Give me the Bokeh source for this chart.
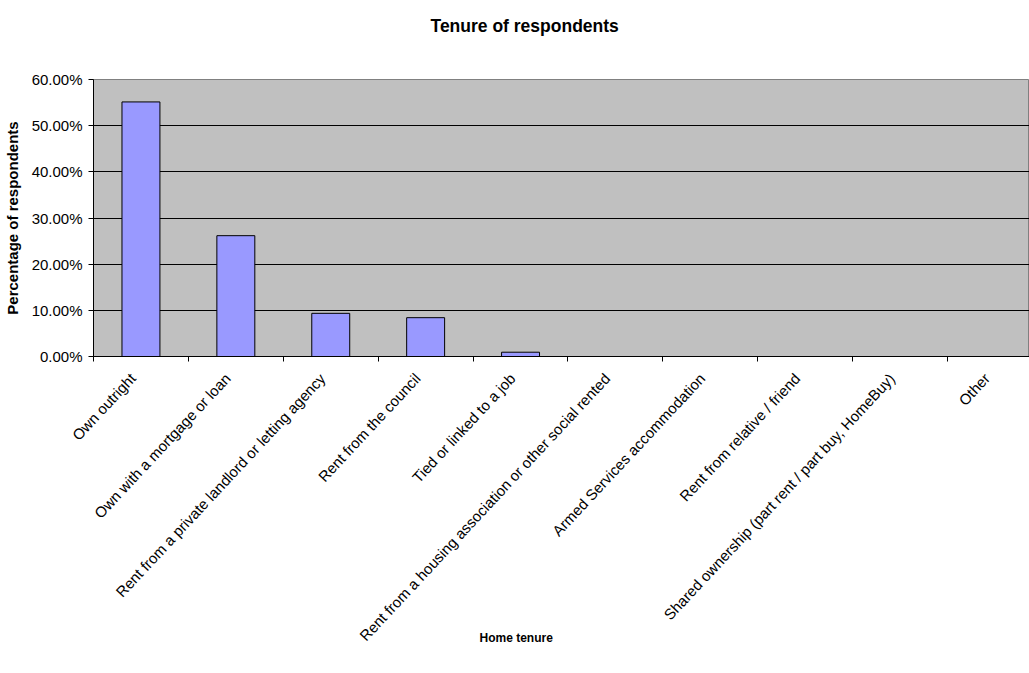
import math

from bokeh.plotting import figure
from bokeh.models import Range1d, FixedTicker, Title
from bokeh.embed import file_html
from bokeh.resources import INLINE

# Survey answers: home tenure of respondents
categories = [
    "Own outright",
    "Own with a mortgage or loan",
    "Rent from a private landlord or letting agency",
    "Rent from the council",
    "Tied or linked to a job",
    "Rent from a housing association or other social rented",
    "Armed Services accommodation",
    "Rent from relative / friend",
    "Shared ownership (part rent / part buy, HomeBuy)",
    "Other",
]
percentages = [55.14, 26.17, 9.35, 8.41, 0.93, 0.0, 0.0, 0.0, 0.0, 0.0]

y_ticks = [0, 10, 20, 30, 40, 50, 60]
y_tick_labels = ["0.00%", "10.00%", "20.00%", "30.00%", "40.00%", "50.00%", "60.00%"]

FONT = "Liberation Sans"
W, H = 1029, 673
FRAME_LEFT, FRAME_TOP, FRAME_BOTTOM = 92, 79, 356
SLOT = 95.0  # pixels per category slot
LABEL_SHIFT = -0.085  # rotated names sit slightly left of their slot centre

positions = list(range(len(categories)))
x_end = (W - FRAME_LEFT) / SLOT - 0.5

p = figure(
    width=W, height=H,
    x_range=Range1d(-0.5, x_end), y_range=Range1d(0, 60),
    output_backend="svg", toolbar_location=None,
    min_border_left=FRAME_LEFT, min_border_right=0,
    min_border_top=FRAME_TOP, min_border_bottom=H - FRAME_BOTTOM,
)
p.background_fill_color = "#C0C0C0"
p.border_fill_color = "white"
p.outline_line_color = "#808080"
p.outline_line_width = 1

# bars
p.vbar(x=positions, top=percentages, width=0.4,
       fill_color="#9999FF", line_color="black", line_width=1)

# grid
p.xgrid.visible = False
p.ygrid.ticker = FixedTicker(ticks=y_ticks)
p.ygrid.grid_line_color = "black"
p.ygrid.grid_line_width = 1

# y axis
ya = p.yaxis[0]
ya.ticker = FixedTicker(ticks=y_ticks, minor_ticks=[])
ya.major_label_overrides = {t: s for t, s in zip(y_ticks, y_tick_labels)}
ya.major_tick_out = 5
ya.major_tick_in = 0
ya.minor_tick_out = 0
ya.axis_line_color = "black"
ya.major_tick_line_color = "black"
ya.major_label_standoff = 6
ya.major_label_text_font = FONT
ya.major_label_text_font_size = "15px"
ya.major_label_text_color = "black"
ya.axis_label = "Percentage of respondents"
ya.axis_label_text_font = FONT
ya.axis_label_text_font_size = "15px"
ya.axis_label_text_font_style = "bold"
ya.axis_label_text_color = "black"
ya.axis_label_standoff = 8

# x axis: category names near slot centres, tick marks at slot boundaries
label_pos = [i + LABEL_SHIFT for i in positions]
xa = p.xaxis[0]
xa.ticker = FixedTicker(ticks=label_pos,
                        minor_ticks=[i - 0.5 for i in range(len(categories) + 1)])
xa.major_label_overrides = {x: c for x, c in zip(label_pos, categories)}
xa.major_tick_out = 0
xa.major_tick_in = 0
xa.minor_tick_out = 5
xa.minor_tick_in = 0
xa.minor_tick_line_color = "black"
xa.axis_line_color = "black"
xa.major_label_orientation = math.radians(47)
xa.major_label_standoff = 14
xa.major_label_text_font = FONT
xa.major_label_text_font_size = "15px"
xa.major_label_text_color = "black"

# chart title and x axis title, both centred on the chart rather than the frame;
# bottom padding lifts the chart title well clear of the plot area, and the
# x axis title is pulled up beside the longest rotated category name
p.add_layout(Title(text="Tenure of respondents", align="left", offset=337,
                   standoff=0, padding=dict(left=0, right=0, top=0, bottom=44),
                   text_font=FONT, text_font_size="17.5px",
                   text_font_style="bold", text_color="black"), "above")
p.add_layout(Title(text="Home tenure", align="left", offset=386,
                   standoff=-44, vertical_align="top", text_font=FONT,
                   text_font_size="12px", text_font_style="bold",
                   text_color="black"), "below")

open("out.html", "w").write(file_html(p, INLINE))
